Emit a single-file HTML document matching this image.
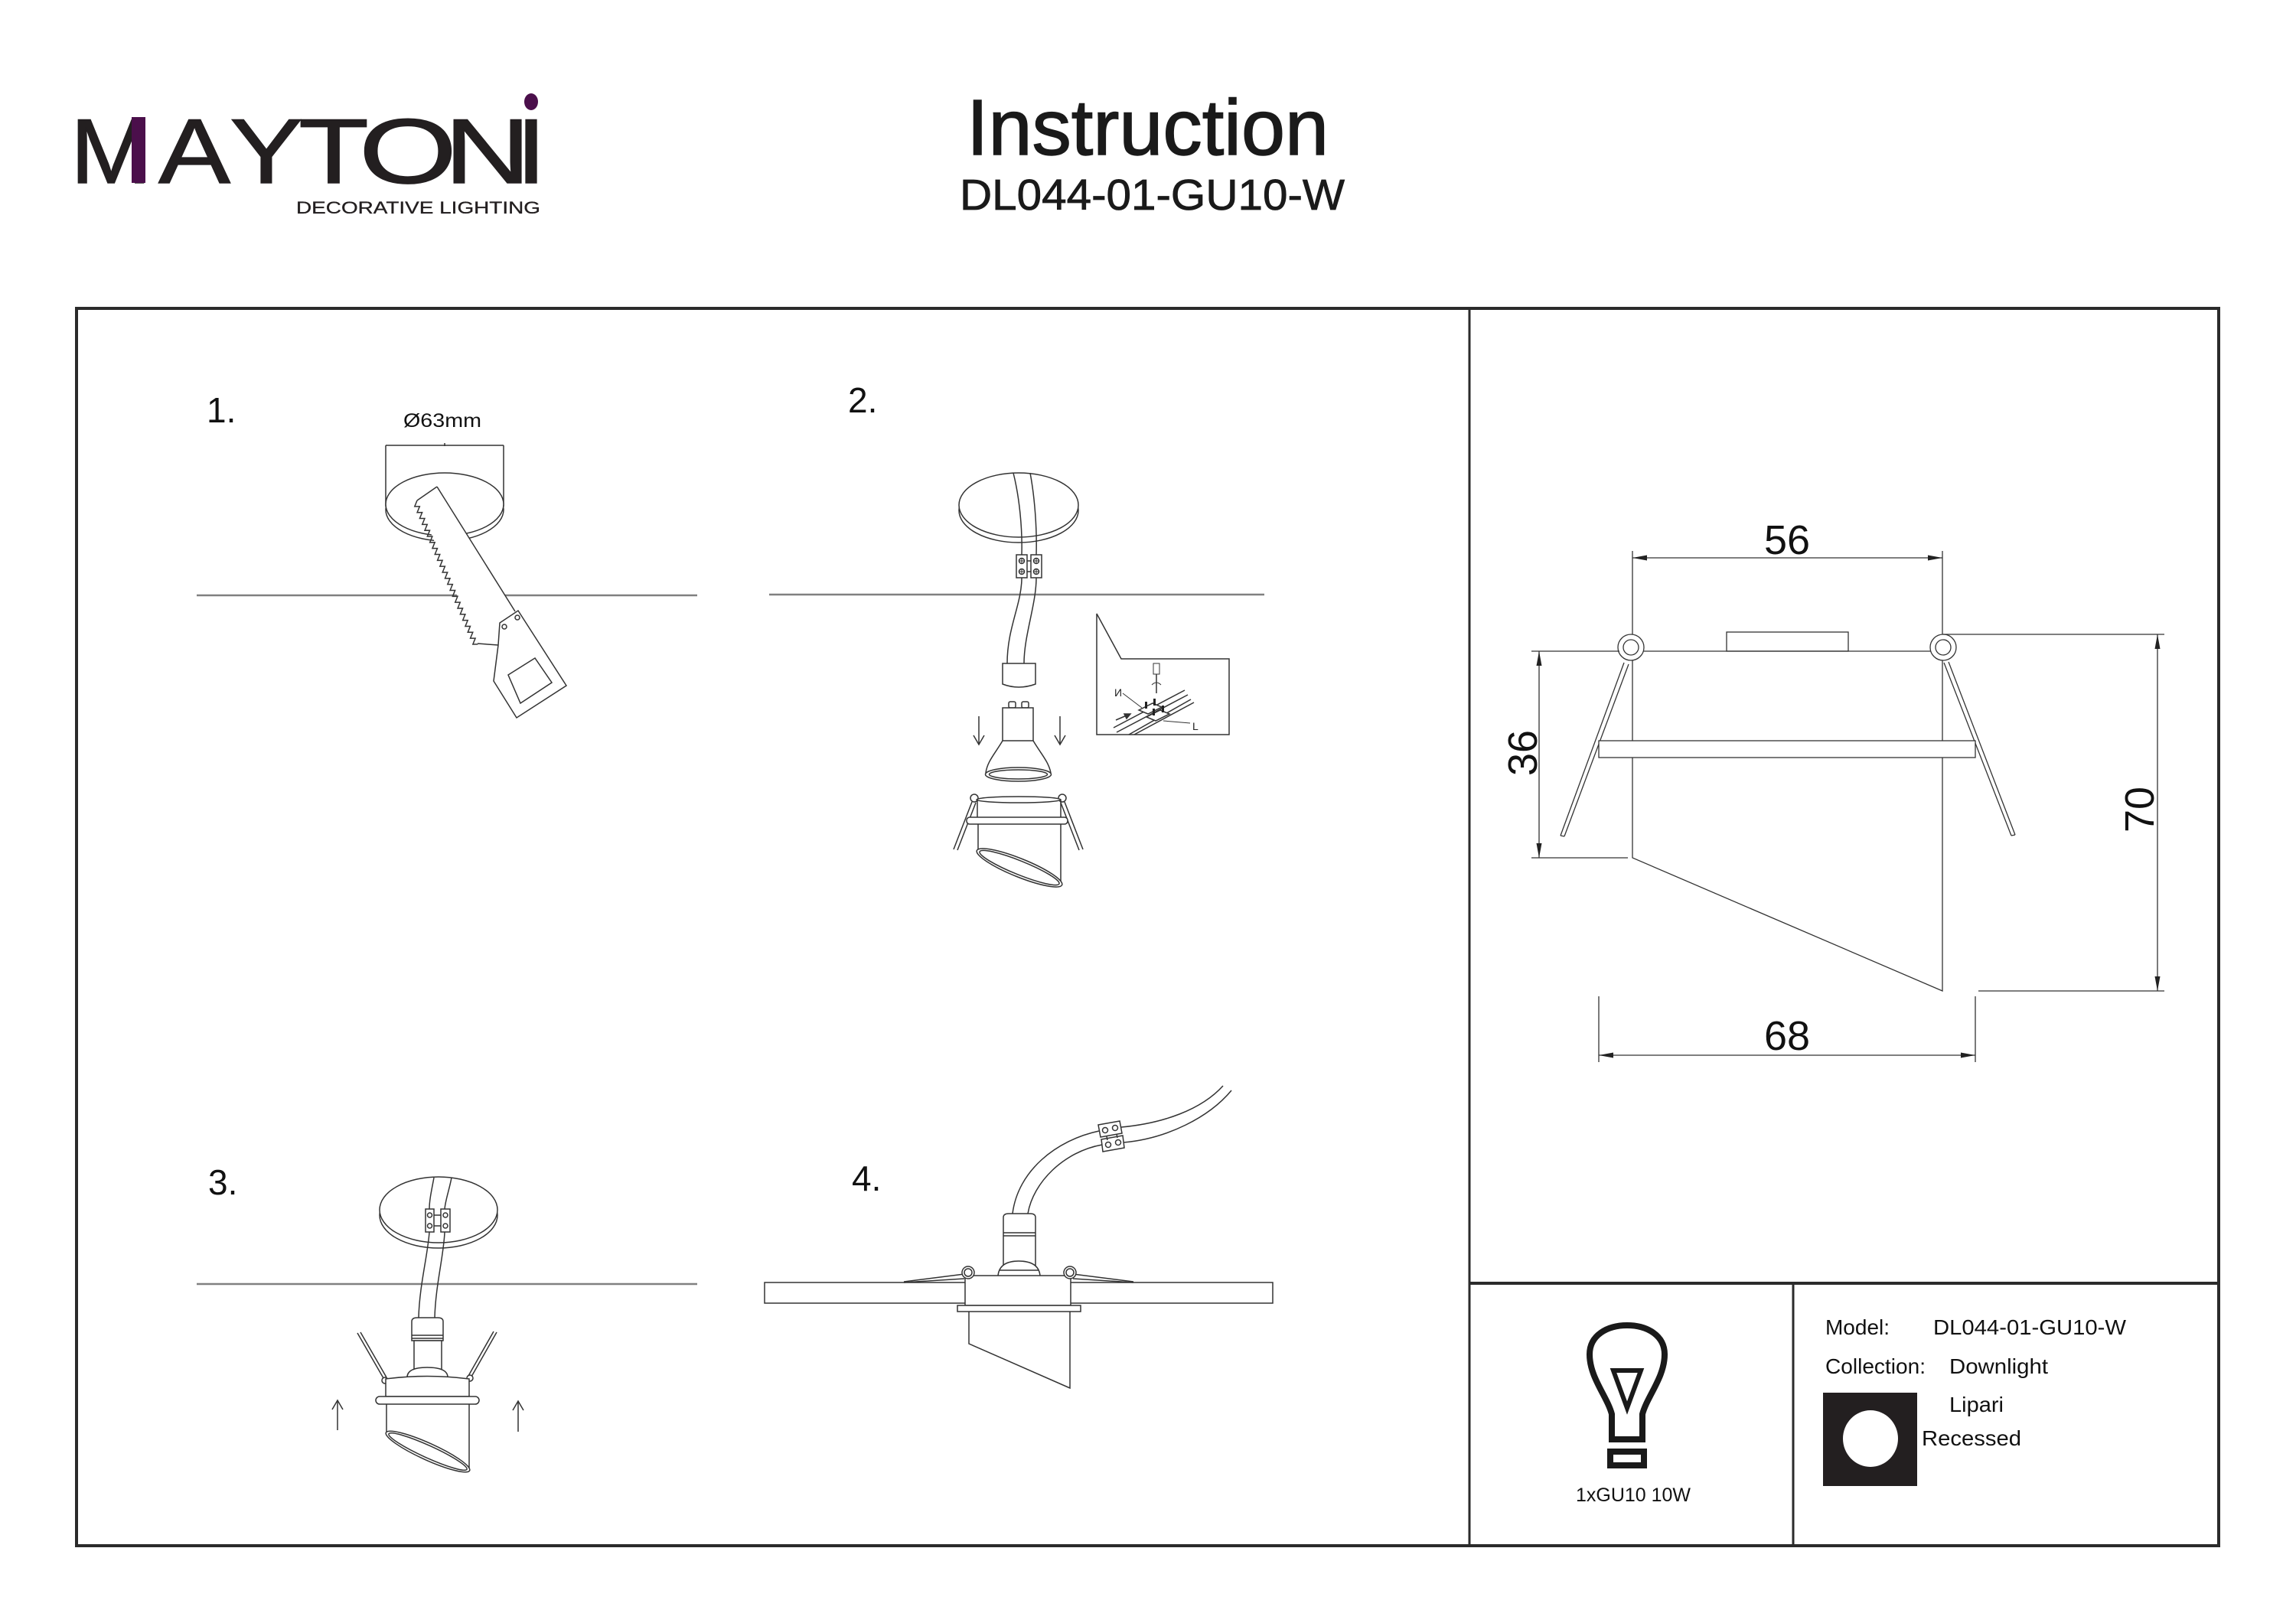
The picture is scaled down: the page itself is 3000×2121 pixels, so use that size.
<!DOCTYPE html>
<html>
<head>
<meta charset="utf-8">
<style>
html,body{margin:0;padding:0;background:#fff;}
svg{display:block;}
</style>
</head>
<body>
<svg xmlns="http://www.w3.org/2000/svg" width="3000" height="2121" viewBox="0 0 3000 2121" font-family="'Liberation Sans', Arial, sans-serif">
<rect x="0" y="0" width="3000" height="2121" fill="#fff"/>

<!-- ===== LOGO ===== -->
<g fill="#231f20" stroke="#231f20" stroke-width="1.5" font-size="120">
  <text transform="translate(145,239) scale(1.06,1)" text-anchor="middle">M</text>
  <text transform="translate(254,239) scale(1.17,1)" text-anchor="middle">A</text>
  <text transform="translate(348,239) scale(1.19,1)" text-anchor="middle">Y</text>
  <text transform="translate(436,239) scale(1.25,1)" text-anchor="middle">T</text>
  <text transform="translate(533,239) scale(1.37,1)" text-anchor="middle">O</text>
  <text transform="translate(637,239) scale(1.3,1)" text-anchor="middle">N</text>
  <text transform="translate(694,239) scale(1.2,1)" text-anchor="middle">I</text>
</g>
<rect x="172" y="153" width="18" height="86" fill="#4b0f4b"/>
<ellipse cx="694" cy="133" rx="9" ry="11" fill="#4b0f4b"/>
<text x="387" y="279" font-size="22" fill="#231f20" stroke="#231f20" stroke-width="0.3" textLength="319" lengthAdjust="spacingAndGlyphs">DECORATIVE LIGHTING</text>

<!-- ===== TITLE ===== -->
<text x="1263" y="202" font-size="103" fill="#1a1a1a" stroke="#1a1a1a" stroke-width="1.5" textLength="473" lengthAdjust="spacingAndGlyphs">Instruction</text>
<text x="1254" y="274" font-size="57" fill="#1a1a1a" stroke="#1a1a1a" stroke-width="0.8" textLength="503" lengthAdjust="spacingAndGlyphs">DL044-01-GU10-W</text>

<!-- ===== FRAME ===== -->
<g stroke="#2b2b2b" fill="none">
  <rect x="100" y="403" width="2799" height="1617" stroke-width="4"/>
  <line x1="1920" y1="403" x2="1920" y2="2020" stroke-width="3"/>
  <line x1="1920" y1="1677" x2="2899" y2="1677" stroke-width="4"/>
  <line x1="2343" y1="1677" x2="2343" y2="2020" stroke-width="3"/>
</g>

<!-- ===== STEP LABELS ===== -->
<g font-size="46" fill="#111">
  <text x="270" y="552">1.</text>
  <text x="1108" y="539">2.</text>
  <text x="272" y="1561">3.</text>
  <text x="1113" y="1556">4.</text>
</g>

<!-- ===== STEP 1 ===== -->
<line x1="257" y1="778" x2="911" y2="778" stroke="#808080" stroke-width="2.5"/>
<text x="527" y="558" font-size="25" fill="#111" textLength="102" lengthAdjust="spacingAndGlyphs">Ø63mm</text>
<g stroke="#333" stroke-width="1.5" fill="none">
  <line x1="504" y1="582" x2="658" y2="582"/>
  <line x1="504" y1="582" x2="504" y2="662"/>
  <line x1="658" y1="582" x2="658" y2="662"/>
  <line x1="581" y1="579" x2="581" y2="583"/>
</g>
<ellipse cx="581" cy="666" rx="77" ry="41" fill="#fff" stroke="#333" stroke-width="1.5"/>
<ellipse cx="581" cy="659" rx="77" ry="41" fill="#fff" stroke="#333" stroke-width="1.5"/>
<!-- saw blade -->
<polygon points="571,636 673,799 653,814 651,843 624,841 545,654" fill="#fff" stroke="none"/>
<g stroke="#333" stroke-width="1.5" fill="none">
  <line x1="571" y1="636" x2="673" y2="799"/>
  <line x1="571" y1="636" x2="545" y2="654"/>
  <line x1="624" y1="841" x2="651" y2="843"/>
  <g transform="translate(545,654) rotate(67.1)">
    <polyline points="0,0 6,6 8.5,0 14.5,6 17,0 23,6 25.5,0 31.5,6 34,0 40,6 42.5,0 48.5,6 51,0 57,6 59.5,0 65.5,6 68,0 74,6 76.5,0 82.5,6 85,0 91,6 93.5,0 99.5,6 102,0 108,6 110.5,0 116.5,6 119,0 125,6 127.5,0 133.5,6 136,0 142,6 144.5,0 150.5,6 153,0 159,6 161.5,0 167.5,6 170,0 176,6 178.5,0 184.5,6 187,0 193,6 195.5,0 201.5,6 204,0"/>
  </g>
  <polygon points="653,814 677,798 740,896 675,938 645,890 651,843" fill="#fff"/>
  <polygon points="664,882 699,860 721,892 680,919"/>
  <circle cx="659" cy="819" r="3"/>
  <circle cx="676" cy="807" r="3"/>
</g>

<!-- ===== STEP 2 ===== -->
<line x1="1005" y1="777" x2="1652" y2="777" stroke="#808080" stroke-width="2.5"/>
<ellipse cx="1331" cy="667" rx="78" ry="42" fill="#fff" stroke="#333" stroke-width="1.5"/>
<ellipse cx="1331" cy="660" rx="78" ry="42" fill="#fff" stroke="#333" stroke-width="1.5"/>
<g stroke="#333" stroke-width="1.5" fill="none">
  <path d="M1324,618 C1332,650 1336,690 1335,725"/>
  <path d="M1346,618 C1352,650 1355,690 1354,725"/>
  <rect x="1328" y="725" width="14" height="30" fill="#fff"/>
  <rect x="1347" y="725" width="14" height="30" fill="#fff"/>
  <circle cx="1335" cy="733" r="3.5"/><circle cx="1335" cy="747" r="3.5"/>
  <circle cx="1354" cy="733" r="3.5"/><circle cx="1354" cy="747" r="3.5"/>
  <path d="M1331.5,733 h7 M1335,729.5 v7 M1331.5,747 h7 M1335,743.5 v7 M1350.5,733 h7 M1354,729.5 v7 M1350.5,747 h7 M1354,743.5 v7" stroke-width="1"/>
  <line x1="1342" y1="733" x2="1347" y2="733"/><line x1="1342" y1="747" x2="1347" y2="747"/>
  <path d="M1335,755 C1335,790 1316,820 1316,867"/>
  <path d="M1354,755 C1354,790 1338,830 1338,867"/>
  <path d="M1310,867 L1310,894 Q1331,902 1353,894 L1353,867 Z" fill="#fff"/>
  <rect x="1318" y="917" width="9" height="8" rx="2"/>
  <rect x="1335" y="917" width="9" height="8" rx="2"/>
  <rect x="1310" y="925" width="40" height="43" fill="#fff"/>
  <path d="M1310,968 C1300,985 1290,995 1288,1010"/>
  <path d="M1350,968 C1360,985 1370,995 1373,1010"/>
  <ellipse cx="1330.5" cy="1012" rx="43" ry="9"/>
  <ellipse cx="1330.5" cy="1012" rx="38" ry="6"/>
  <!-- arrows down -->
  <line x1="1279" y1="936" x2="1279" y2="973"/>
  <polyline points="1272,961 1279,973 1286,961"/>
  <line x1="1385" y1="936" x2="1385" y2="973"/>
  <polyline points="1378,961 1385,973 1392,961"/>
  <!-- fixture -->
  <line x1="1270" y1="1048" x2="1246" y2="1110"/>
  <line x1="1275" y1="1049" x2="1251" y2="1111"/>
  <line x1="1391" y1="1048" x2="1415" y2="1110"/>
  <line x1="1386" y1="1049" x2="1410" y2="1111"/>
  <circle cx="1273" cy="1043" r="5" fill="#fff"/>
  <circle cx="1388" cy="1043" r="5" fill="#fff"/>
  <ellipse cx="1331" cy="1045" rx="55" ry="4" fill="#fff"/>
  <line x1="1277" y1="1045" x2="1277" y2="1068"/>
  <line x1="1386" y1="1045" x2="1386" y2="1068"/>
  <rect x="1263" y="1068" width="132" height="9" rx="4" fill="#fff"/>
  <line x1="1278" y1="1077" x2="1278" y2="1116"/>
  <line x1="1386" y1="1077" x2="1386" y2="1152"/>
  <ellipse cx="1332" cy="1134" rx="60" ry="12" transform="rotate(22 1332 1134)" fill="#fff"/>
  <ellipse cx="1332" cy="1134" rx="56" ry="9" transform="rotate(22 1332 1134)"/>
</g>
<!-- inset -->
<g stroke="#333" stroke-width="1.5" fill="none">
  <path d="M1433,802 L1465,861 L1606,861 L1606,960 L1433,960 Z" fill="#fff"/>
  <line x1="1455" y1="951" x2="1548" y2="902"/>
  <line x1="1459" y1="957" x2="1552" y2="908"/>
  <line x1="1475" y1="960" x2="1556" y2="914"/>
  <line x1="1482" y1="960" x2="1560" y2="918"/>
  <polygon points="1488,928 1506,919 1518,924 1500,933" fill="#fff"/>
  <polygon points="1498,937 1516,928 1528,933 1510,942" fill="#fff"/>
  <rect x="1496" y="917" width="3" height="9" fill="#222" stroke="none"/>
  <rect x="1507" y="913" width="3" height="9" fill="#222" stroke="none"/>
  <rect x="1506" y="926" width="3" height="9" fill="#222" stroke="none"/>
  <rect x="1518" y="922" width="3" height="9" fill="#222" stroke="none"/>
  <rect x="1507" y="867" width="8" height="14" stroke-width="1"/>
  <line x1="1511" y1="881" x2="1511" y2="906" stroke-width="1.5"/>
  <path d="M1505,895 Q1511,889 1517,895" stroke-width="1"/>
  <line x1="1467" y1="906" x2="1492" y2="925" stroke-width="1"/>
  <line x1="1555" y1="945" x2="1520" y2="942" stroke-width="1"/>
  <line x1="1458" y1="941" x2="1472" y2="935"/>
  <polygon points="1477,933 1469,933 1472,939" fill="#333"/>
</g>
<text x="1456" y="910" font-size="14" fill="#222">И</text>
<text x="1558" y="954" font-size="14" fill="#222">L</text>

<!-- ===== STEP 3 ===== -->
<line x1="257" y1="1678" x2="911" y2="1678" stroke="#808080" stroke-width="2.5"/>
<ellipse cx="573" cy="1588" rx="77" ry="43" fill="#fff" stroke="#333" stroke-width="1.5"/>
<ellipse cx="573" cy="1581" rx="77" ry="43" fill="#fff" stroke="#333" stroke-width="1.5"/>
<g stroke="#333" stroke-width="1.5" fill="none">
  <path d="M567,1539 C564,1555 561,1568 561,1580"/>
  <path d="M590,1539 C587,1555 582,1568 581,1580"/>
  <rect x="556" y="1580" width="11" height="30" fill="#fff"/>
  <rect x="576" y="1580" width="12" height="30" fill="#fff"/>
  <circle cx="561.5" cy="1588" r="3"/><circle cx="561.5" cy="1602" r="3"/>
  <circle cx="582" cy="1588" r="3"/><circle cx="582" cy="1602" r="3"/>
  <line x1="567" y1="1588" x2="576" y2="1588"/><line x1="567" y1="1602" x2="576" y2="1602"/>
  <path d="M561,1610 C559,1640 548,1680 547,1722"/>
  <path d="M581,1610 C580,1640 569,1680 568,1722"/>
  <path d="M538,1752 L538,1727 Q538,1722 545,1722 L572,1722 Q579,1722 579,1727 L579,1752 Z" fill="#fff"/>
  <line x1="538" y1="1745" x2="579" y2="1745"/>
  <line x1="538" y1="1749" x2="579" y2="1749"/>
  <rect x="541" y="1752" width="36" height="40" fill="#fff"/>
  <path d="M532,1800 Q532,1787 558,1787 Q585,1787 585,1800" fill="#fff"/>
  <!-- clips -->
  <line x1="501" y1="1801" x2="467" y2="1742"/>
  <line x1="505" y1="1800" x2="471" y2="1741"/>
  <line x1="612" y1="1798" x2="645" y2="1740"/>
  <line x1="616" y1="1799" x2="649" y2="1741"/>
  <circle cx="503" cy="1804" r="4" fill="#fff"/>
  <circle cx="614" cy="1801" r="4" fill="#fff"/>
  <path d="M504,1802 Q558,1795 613,1802 L613,1825 L504,1825 Z" fill="#fff"/>
  <rect x="491" y="1825" width="135" height="10" rx="5" fill="#fff"/>
  <line x1="505" y1="1835" x2="505" y2="1873"/>
  <line x1="613" y1="1835" x2="613" y2="1923"/>
  <ellipse cx="559" cy="1897" rx="60" ry="11" transform="rotate(24.4 559 1897)" fill="#fff"/>
  <ellipse cx="559" cy="1897" rx="56" ry="8" transform="rotate(24.4 559 1897)"/>
  <!-- arrows up -->
  <line x1="441" y1="1869" x2="441" y2="1830"/>
  <polyline points="434,1842 441,1830 448,1842"/>
  <line x1="677" y1="1871" x2="677" y2="1831"/>
  <polyline points="670,1843 677,1831 684,1843"/>
</g>

<!-- ===== STEP 4 ===== -->
<g stroke="#333" stroke-width="1.5" fill="none">
  <rect x="999" y="1676" width="664" height="27" fill="#fff"/>
  <!-- clip arms -->
  <line x1="1181" y1="1675" x2="1260" y2="1665"/>
  <line x1="1181" y1="1676" x2="1260" y2="1671"/>
  <line x1="1481" y1="1675" x2="1402" y2="1665"/>
  <line x1="1481" y1="1676" x2="1402" y2="1671"/>
  <!-- cables -->
  <path d="M1323,1586 C1330,1530 1380,1490 1436,1478"/>
  <path d="M1343,1586 C1350,1545 1390,1505 1440,1496"/>
  <path d="M1465,1473 C1520,1468 1570,1450 1598,1419"/>
  <path d="M1468,1493 C1525,1488 1580,1460 1609,1425"/>
  <polygon points="1435,1470 1463,1465 1466,1481 1438,1486" fill="#fff"/>
  <polygon points="1439,1489 1467,1484 1469,1500 1441,1505" fill="#fff"/>
  <circle cx="1444" cy="1477" r="3.5"/><circle cx="1457" cy="1474" r="3.5"/>
  <circle cx="1448" cy="1496" r="3.5"/><circle cx="1461" cy="1493" r="3.5"/>
  <line x1="1446" y1="1485" x2="1447" y2="1490"/><line x1="1459" y1="1482" x2="1460" y2="1487"/>
  <!-- cylinder -->
  <path d="M1311,1667 L1311,1591 Q1311,1586 1318,1586 L1346,1586 Q1353,1586 1353,1591 L1353,1667 Z" fill="#fff"/>
  <line x1="1311" y1="1611" x2="1353" y2="1611"/>
  <line x1="1311" y1="1615" x2="1353" y2="1615"/>
  <path d="M1304,1667 Q1306,1648 1331,1648 Q1357,1648 1359,1667" fill="#fff"/>
  <line x1="1306" y1="1660" x2="1357" y2="1660"/>
  <!-- fixture -->
  <rect x="1261" y="1667" width="138" height="39" fill="#fff"/>
  <circle cx="1265" cy="1663" r="8" fill="#fff"/>
  <circle cx="1265" cy="1663" r="5"/>
  <circle cx="1398" cy="1663" r="8" fill="#fff"/>
  <circle cx="1398" cy="1663" r="5"/>
  <rect x="1251" y="1706" width="161" height="8" fill="#fff"/>
  <path d="M1266,1714 L1266,1756 L1398,1814 L1398,1714"/>
</g>

<!-- ===== DIMENSION DRAWING ===== -->
<g stroke="#333" stroke-width="1.3" fill="none">
  <line x1="2133" y1="720" x2="2133" y2="851"/>
  <line x1="2538" y1="720" x2="2538" y2="851"/>
  <line x1="2133" y1="729" x2="2538" y2="729"/>
  <rect x="2256" y="826" width="159" height="25"/>
  <line x1="2133" y1="851" x2="2538" y2="851"/>
  <path d="M2133,851 L2133,1121 L2538,1295 L2538,851"/>
  <!-- springs -->
  <line x1="2122" y1="866" x2="2039" y2="1092"/>
  <line x1="2128" y1="868" x2="2044" y2="1093"/>
  <line x1="2039" y1="1092" x2="2044" y2="1093"/>
  <line x1="2540" y1="866" x2="2628" y2="1092"/>
  <line x1="2546" y1="865" x2="2633" y2="1091"/>
  <line x1="2628" y1="1092" x2="2633" y2="1091"/>
  <circle cx="2131" cy="846" r="17" fill="#fff"/>
  <circle cx="2131" cy="846" r="10"/>
  <circle cx="2539" cy="846" r="17" fill="#fff"/>
  <circle cx="2539" cy="846" r="10"/>
  <rect x="2089" y="968" width="492" height="22" fill="#fff"/>
  <!-- 36 -->
  <line x1="2001" y1="851" x2="2116" y2="851"/>
  <line x1="2001" y1="1121" x2="2127" y2="1121"/>
  <line x1="2011" y1="851" x2="2011" y2="1121"/>
  <!-- 70 -->
  <line x1="2539" y1="829" x2="2828" y2="829"/>
  <line x1="2585" y1="1295" x2="2828" y2="1295"/>
  <line x1="2819" y1="829" x2="2819" y2="1295"/>
  <!-- 68 -->
  <line x1="2089" y1="1302" x2="2089" y2="1388"/>
  <line x1="2581" y1="1302" x2="2581" y2="1388"/>
  <line x1="2089" y1="1379" x2="2581" y2="1379"/>
</g>
<g fill="#222">
  <polygon points="2133,729 2152,725.5 2152,732.5"/>
  <polygon points="2538,729 2519,725.5 2519,732.5"/>
  <polygon points="2011,851 2007.5,870 2014.5,870"/>
  <polygon points="2011,1121 2007.5,1102 2014.5,1102"/>
  <polygon points="2819,829 2815.5,848 2822.5,848"/>
  <polygon points="2819,1295 2815.5,1276 2822.5,1276"/>
  <polygon points="2089,1379 2108,1375.5 2108,1382.5"/>
  <polygon points="2581,1379 2562,1375.5 2562,1382.5"/>
</g>
<g font-size="54" fill="#111" text-anchor="middle">
  <text x="2335" y="724">56</text>
  <text x="2335" y="1372">68</text>
  <text transform="translate(2008,984) rotate(-90)">36</text>
  <text transform="translate(2814,1058) rotate(-90)">70</text>
</g>

<!-- ===== BULB BOX ===== -->
<g stroke="#1a1a1a" fill="none">
  <path d="M2106,1881 L2106,1848 C2100,1825 2077,1800 2077,1770 C2077,1745 2100,1732 2126,1732 C2152,1732 2175,1745 2175,1770 C2175,1800 2152,1825 2146,1848 L2146,1881 Z" stroke-width="8"/>
  <path d="M2108,1791 L2144,1791 L2126,1840 Z" stroke-width="6"/>
  <rect x="2104" y="1897" width="44" height="18" stroke-width="8"/>
</g>
<text x="2059" y="1962" font-size="25" fill="#111" textLength="150" lengthAdjust="spacingAndGlyphs">1xGU10 10W</text>

<!-- ===== INFO BOX ===== -->
<g font-size="28" fill="#111">
  <text x="2385" y="1744" textLength="84" lengthAdjust="spacingAndGlyphs">Model:</text>
  <text x="2526" y="1744" textLength="252" lengthAdjust="spacingAndGlyphs">DL044-01-GU10-W</text>
  <text x="2385" y="1795" textLength="131" lengthAdjust="spacingAndGlyphs">Collection:</text>
  <text x="2547" y="1795" textLength="129" lengthAdjust="spacingAndGlyphs">Downlight</text>
  <text x="2547" y="1845" textLength="71" lengthAdjust="spacingAndGlyphs">Lipari</text>
  <text x="2511" y="1889" textLength="130" lengthAdjust="spacingAndGlyphs">Recessed</text>
</g>
<rect x="2382" y="1820" width="123" height="122" fill="#231f20"/>
<ellipse cx="2444" cy="1880" rx="36" ry="37" fill="#fff"/>

</svg>
</body>
</html>
